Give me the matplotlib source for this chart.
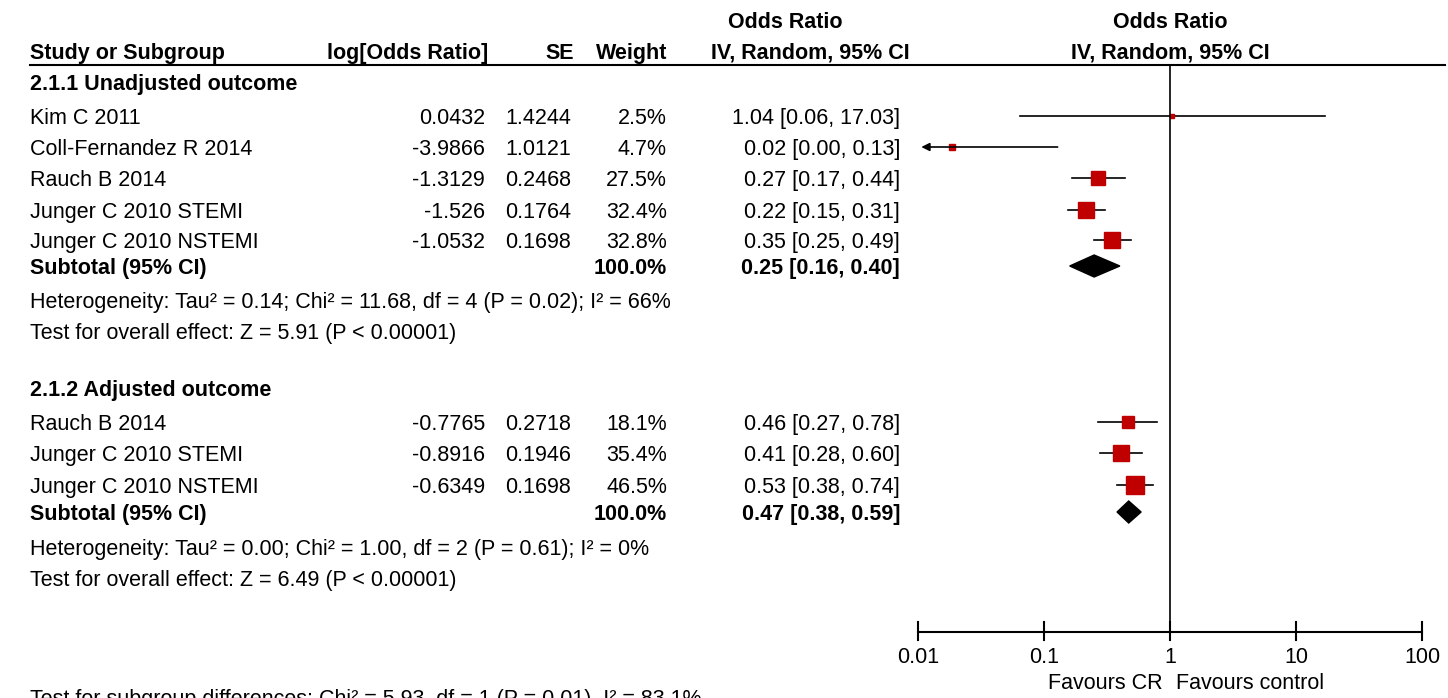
import numpy as np
import matplotlib.pyplot as plt

plt.rcParams['font.family'] = ['Liberation Sans', 'DejaVu Sans']

# ---- data ----
studies1 = ["Kim C 2011", "Coll-Fernandez R 2014", "Rauch B 2014",
            "Junger C 2010 STEMI", "Junger C 2010 NSTEMI"]
logor1 = [0.0432, -3.9866, -1.3129, -1.526, -1.0532]
se1 = [1.4244, 1.0121, 0.2468, 0.1764, 0.1698]
weight1 = [2.5, 4.7, 27.5, 32.4, 32.8]
ci_txt1 = ["1.04 [0.06, 17.03]", "0.02 [0.00, 0.13]", "0.27 [0.17, 0.44]",
           "0.22 [0.15, 0.31]", "0.35 [0.25, 0.49]"]
sub1 = (0.25, 0.16, 0.40)

studies2 = ["Rauch B 2014", "Junger C 2010 STEMI", "Junger C 2010 NSTEMI"]
logor2 = [-0.7765, -0.8916, -0.6349]
se2 = [0.2718, 0.1946, 0.1698]
weight2 = [18.1, 35.4, 46.5]
ci_txt2 = ["0.46 [0.27, 0.78]", "0.41 [0.28, 0.60]", "0.53 [0.38, 0.74]"]
sub2 = (0.47, 0.38, 0.59)

ticks = [0.01, 0.1, 1, 10, 100]
tick_labels = ["0.01", "0.1", "1", "10", "100"]

W, H = 1448, 698
fig = plt.figure(figsize=(W / 100, H / 100), dpi=100)
ax = fig.add_axes([0, 0, 1, 1])
ax.set_xlim(0, W)
ax.set_ylim(H, 0)
ax.axis('off')

L, X_LOG, X_SE, X_W, X_CI = 30, 485, 571, 667, 900
fs = 15.5
red = '#c00000'
VA = 'center_baseline'

# forest panel: log scale, same pixel rows as the table
axf = fig.add_axes([918 / W, 0, 504 / W, 1])
axf.set_xscale('log')
axf.set_xlim(0.01, 100)
axf.set_ylim(H, 0)
axf.axis('off')
axf.patch.set_alpha(0)


def t(x, y, s, bold=False, ha='left', a=ax):
    return a.text(x, y, s, fontsize=fs, weight='bold' if bold else 'normal',
                  ha=ha, va=VA)


# headers
t(785, 20, "Odds Ratio", True, 'center')
t(1170, 20, "Odds Ratio", True, 'center')
t(L, 51, "Study or Subgroup", True)
t(X_LOG + 3, 51, "log[Odds Ratio]", True, 'right')
t(X_SE + 3, 51, "SE", True, 'right')
t(X_W, 51, "Weight", True, 'right')
t(X_CI + 10, 51, "IV, Random, 95% CI", True, 'right')
t(1170, 51, "IV, Random, 95% CI", True, 'center')
ax.plot([L, 1445], [65, 65], color='black', lw=1.5)


def group(title, ys, studies, lor, se, wt, cit, sub, ysub, yhet, het, test):
    t(L, ys[0] - 34, title, True)
    for y, s, l, e, w, c in zip(ys, studies, lor, se, wt, cit):
        t(L, y, s)
        t(X_LOG, y, f"{l}", ha='right')
        t(X_SE, y, f"{e}", ha='right')
        t(X_W, y, f"{w}%", ha='right')
        t(X_CI, y, c, ha='right')
        orv = np.exp(l)
        lo, hi = np.exp(l - 1.96 * e), np.exp(l + 1.96 * e)
        if lo < 0.01:
            axf.annotate("", xy=(0.0101, y), xytext=(hi, y),
                         arrowprops=dict(arrowstyle='-|>', color='black', lw=1.2,
                                         mutation_scale=12))
        else:
            axf.plot([lo, hi], [y, y], color='black', lw=1.2)
        axf.plot([orv], [y], marker='s', color=red, ms=max(2.5, np.sqrt(w) * 1.9), mec=red)
    t(L, ysub, "Subtotal (95% CI)", True)
    t(X_W, ysub, "100.0%", True, 'right')
    t(X_CI, ysub, f"{sub[0]:.2f} [{sub[1]:.2f}, {sub[2]:.2f}]", True, 'right')
    axf.fill([sub[1], sub[0], sub[2], sub[0]], [ysub, ysub - 11, ysub, ysub + 11],
             color='black')
    t(L, yhet, het)
    t(L, yhet + 31, test)


group("2.1.1 Unadjusted outcome", [116, 147, 178, 210, 240], studies1, logor1, se1,
      weight1, ci_txt1, sub1, 266, 300,
      "Heterogeneity: Tau² = 0.14; Chi² = 11.68, df = 4 (P = 0.02); I² = 66%",
      "Test for overall effect: Z = 5.91 (P < 0.00001)")
group("2.1.2 Adjusted outcome", [422, 453, 485], studies2, logor2, se2,
      weight2, ci_txt2, sub2, 512, 547,
      "Heterogeneity: Tau² = 0.00; Chi² = 1.00, df = 2 (P = 0.61); I² = 0%",
      "Test for overall effect: Z = 6.49 (P < 0.00001)")

t(L, 697, "Test for subgroup differences: Chi² = 5.93, df = 1 (P = 0.01), I² = 83.1%")

# forest axis
axf.plot([1, 1], [65, 632], color='black', lw=1.2)
axf.plot([0.01, 100], [632, 632], color='black', lw=1.5, clip_on=False)
for tk, lab in zip(ticks, tick_labels):
    axf.plot([tk, tk], [622, 640], color='black', lw=1.5, clip_on=False)
    t(tk, 655, lab, ha='center', a=axf)
t(0.88, 681, "Favours CR", ha='right', a=axf)
t(1.12, 681, "Favours control", a=axf)

fig.savefig("out.png", dpi=100)
